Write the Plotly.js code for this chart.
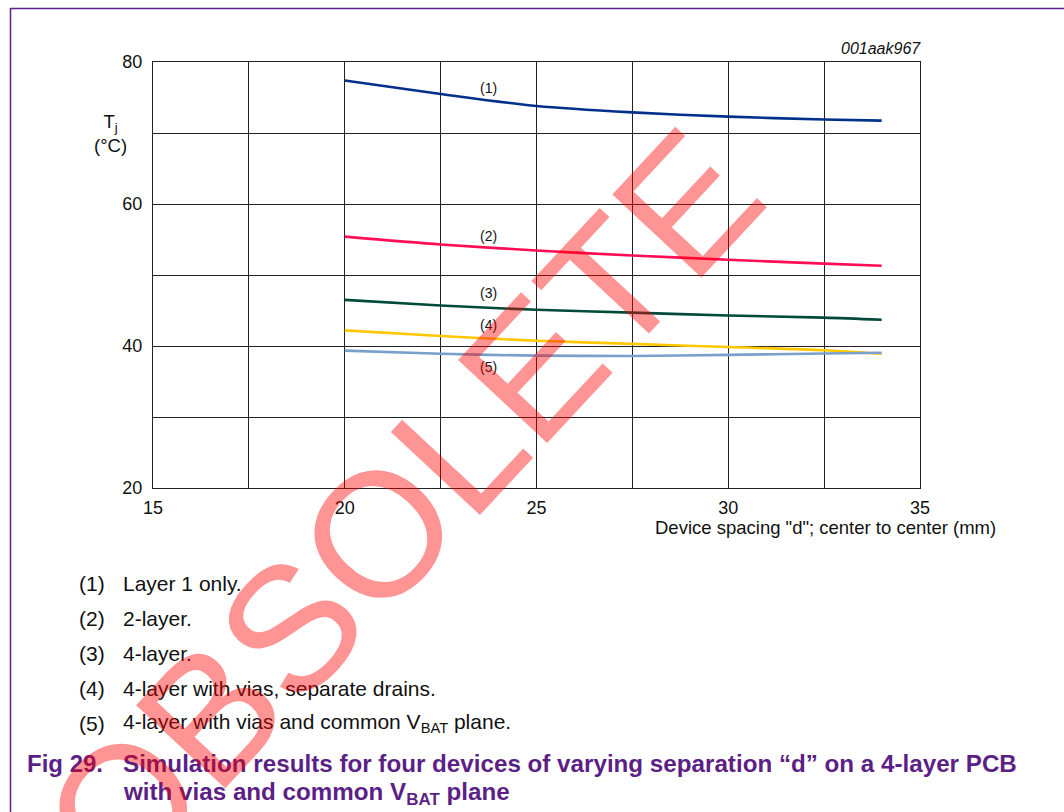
<!DOCTYPE html>
<html>
<head>
<meta charset="utf-8">
<script src="https://cdn.plot.ly/plotly-3.0.1.min.js"></script>
<style>
  html, body { margin: 0; padding: 0; background: #ffffff; }
  #chart { width: 1064px; height: 812px; }
</style>
</head>
<body>
<div id="chart"></div>
<script>
// Device spacing d (mm), centre to centre
const spacing = [20, 22.5, 25, 27.5, 30, 32.5, 34];

// Junction temperature Tj (°C) per board build
const layer1Only   = [77.4, 75.5, 73.8, 72.9, 72.3, 71.9, 71.75];
const twoLayer     = [55.4, 54.3, 53.45, 52.75, 52.15, 51.6, 51.3];
const fourLayer    = [46.5, 45.7, 45.1, 44.7, 44.3, 44.0, 43.7];
const viasSepDrain = [42.2, 41.4, 40.75, 40.3, 39.85, 39.4, 38.9];
const viasCommonVbat = [39.35, 38.9, 38.65, 38.6, 38.75, 38.95, 39.05];

const seriesTags = ['(1)', '(2)', '(3)', '(4)', '(5)'];
const seriesColors = ['#00308a', '#ff0d55', '#004a3a', '#ffc800', '#7a9fca'];
const tagX = 23.75;
const tagY = [76.4, 55.5, 47.4, 42.9, 37.1];

const xTickVals = [15, 20, 25, 30, 35];
const yTickVals = [20, 40, 60, 80];

const noteLines = [
  'Layer 1 only.',
  '2-layer.',
  '4-layer.',
  '4-layer with vias, separate drains.',
  '4-layer with vias and common V<sub>BAT</sub> plane.'
];
const captionLines = [
  'Simulation results for four devices of varying separation \u201cd\u201d on a 4-layer PCB',
  'with vias and common V<sub>BAT</sub> plane'
];

// page geometry (pixels) -> paper coordinates
const W = 1064, H = 812;
const M = { l: 153, r: 144, t: 62, b: 324 };
const pw = W - M.l - M.r, ph = H - M.t - M.b;
const px = v => (v - M.l) / pw;
const py = v => (H - M.b - v) / ph;

const FONT = 'Liberation Sans, Arial, Helvetica, sans-serif';
const purple = '#5c1f86';

const allSeries = [layer1Only, twoLayer, fourLayer, viasSepDrain, viasCommonVbat];
const traces = allSeries.map((ys, i) => ({
  x: spacing,
  y: ys,
  type: 'scatter',
  mode: 'lines',
  line: { color: seriesColors[i], width: 2.6, shape: 'spline', smoothing: 0.8 },
  hoverinfo: 'skip',
  showlegend: false
}));

const annotations = [];

// curve tags
seriesTags.forEach((t, i) => annotations.push({
  x: tagX, y: tagY[i], xref: 'x', yref: 'y', text: t, showarrow: false,
  font: { family: FONT, size: 14, color: '#111' }, xanchor: 'center', yanchor: 'middle'
}));

// y axis label
annotations.push({
  x: px(110), y: py(133), xref: 'paper', yref: 'paper',
  text: 'T<sub>j</sub><br>(\u00b0C)', showarrow: false, align: 'center',
  font: { family: FONT, size: 18.5, color: '#111' }, xanchor: 'center', yanchor: 'middle'
});

// drawing code
annotations.push({
  x: px(923), y: py(49), xref: 'paper', yref: 'paper',
  text: '<i>001aak967</i>', showarrow: false,
  font: { family: FONT, size: 16, color: '#111' }, xanchor: 'right', yanchor: 'middle'
});

// x axis title
annotations.push({
  x: px(998), y: py(527), xref: 'paper', yref: 'paper',
  text: 'Device spacing "d"; center to center (mm)', showarrow: false,
  font: { family: FONT, size: 18.5, color: '#111' }, xanchor: 'right', yanchor: 'middle'
});

// numbered notes
noteLines.forEach((t, i) => {
  const yy = 583 + 35 * i;
  annotations.push({
    x: px(77), y: py(yy), xref: 'paper', yref: 'paper', text: seriesTags[i],
    showarrow: false, font: { family: FONT, size: 21, color: '#111' },
    xanchor: 'left', yanchor: 'middle'
  });
  annotations.push({
    x: px(121), y: py(yy), xref: 'paper', yref: 'paper', text: t,
    showarrow: false, font: { family: FONT, size: 21, color: '#111' },
    xanchor: 'left', yanchor: 'middle'
  });
});

// figure caption
annotations.push({
  x: px(25), y: py(763), xref: 'paper', yref: 'paper', text: '<b>Fig 29.</b>',
  showarrow: false, font: { family: FONT, size: 24, color: purple },
  xanchor: 'left', yanchor: 'middle'
});
captionLines.forEach((t, i) => annotations.push({
  x: px(121), y: py(763 + 30 * i), xref: 'paper', yref: 'paper', text: '<b>' + t + '</b>',
  showarrow: false, font: { family: FONT, size: 24.2, color: purple },
  xanchor: 'left', yanchor: 'middle'
}));

// status stamp across the page
annotations.push({
  x: px(402), y: py(509), xref: 'paper', yref: 'paper', text: 'OBSOLETE',
  showarrow: false, textangle: -47,
  font: { family: FONT, size: 177, color: 'rgba(255,0,0,0.42)' },
  xanchor: 'center', yanchor: 'middle'
});

const shapes = [
  { type: 'line', xref: 'paper', yref: 'paper', x0: px(10.5), x1: px(10.5), y0: py(8), y1: py(820),
    line: { color: purple, width: 1.5 } },
  { type: 'line', xref: 'paper', yref: 'paper', x0: px(10.5), x1: px(1070), y0: py(8.5), y1: py(8.5),
    line: { color: purple, width: 1.5 } }
];

const layout = {
  width: W, height: H,
  margin: M,
  paper_bgcolor: '#ffffff',
  plot_bgcolor: '#ffffff',
  showlegend: false,
  font: { family: FONT, size: 18, color: '#111' },
  xaxis: {
    range: [15, 35], tickvals: xTickVals, ticks: '', showgrid: true,
    gridcolor: '#222', gridwidth: 1,
    minor: { dtick: 2.5, showgrid: true, gridcolor: '#222', gridwidth: 1 },
    showline: true, linecolor: '#222', linewidth: 1.2, mirror: true,
    zeroline: false, tickfont: { family: FONT, size: 18, color: '#111' }, ticklabelstandoff: 3,
    fixedrange: true
  },
  yaxis: {
    range: [20, 80], tickvals: yTickVals, ticks: '', showgrid: true,
    gridcolor: '#222', gridwidth: 1,
    minor: { dtick: 10, showgrid: true, gridcolor: '#222', gridwidth: 1 },
    showline: true, linecolor: '#222', linewidth: 1.2, mirror: true,
    zeroline: false, tickfont: { family: FONT, size: 18, color: '#111' }, ticklabelstandoff: 6,
    fixedrange: true
  },
  annotations: annotations,
  shapes: shapes
};

Plotly.newPlot('chart', traces, layout, { displayModeBar: false, staticPlot: true });
</script>
</body>
</html>
